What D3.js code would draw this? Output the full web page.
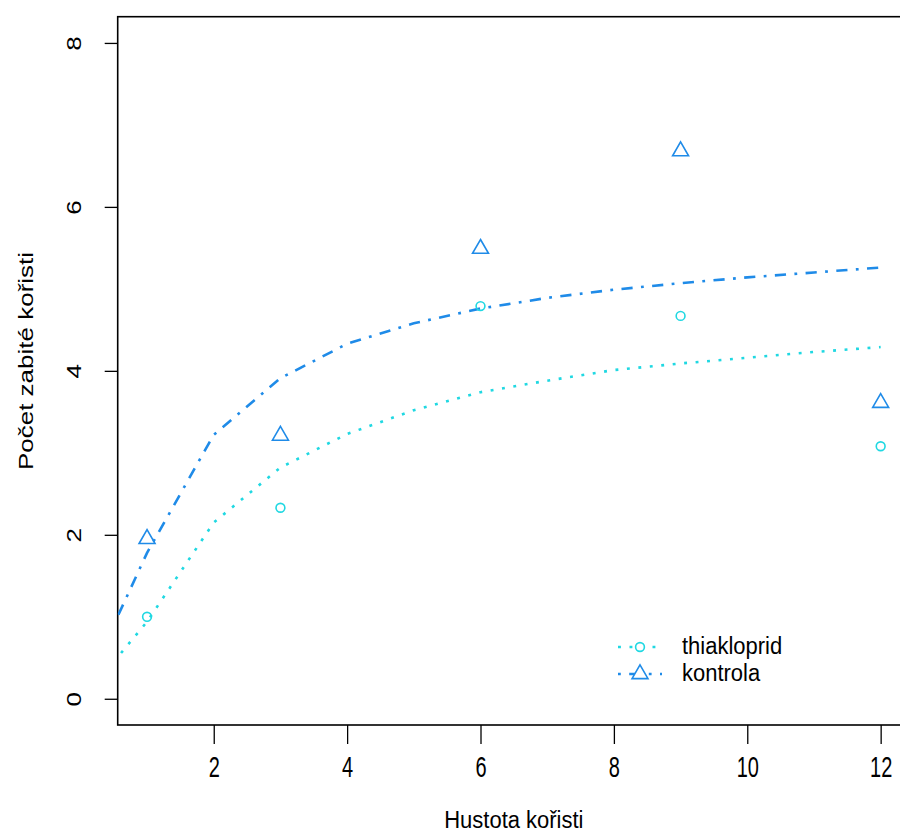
<!DOCTYPE html>
<html>
<head>
<meta charset="utf-8">
<script src="https://cdn.jsdelivr.net/npm/d3@7"></script>
<style>
  body { margin: 0; background: #fff; }
  text { font-family: "Liberation Sans", Arial, sans-serif; fill: #000; }
</style>
</head>
<body>
<svg id="chart" width="900" height="832"></svg>
<script>
// observed points
const density = [1, 3, 6, 9, 12];
const killedThiakloprid = [1.0, 2.33, 4.79, 4.67, 3.08];
const killedKontrola = [1.95, 3.21, 5.49, 6.68, 3.61];

// fitted curves
const fitX = [0.5, 1, 2, 3, 4, 5, 6, 7, 8, 9, 10, 11, 12];
const fitThiakloprid = [0.45, 0.94, 2.15, 2.82, 3.23, 3.52, 3.74, 3.88, 4.01, 4.09, 4.16, 4.23, 4.29];
const fitKontrola = [0.90, 1.78, 3.22, 3.91, 4.33, 4.58, 4.76, 4.89, 4.99, 5.07, 5.14, 5.20, 5.26];

const xTicks = [2, 4, 6, 8, 10, 12];
const yTicks = [0, 2, 4, 6, 8];
const seriesNames = ["thiakloprid", "kontrola"];

const cyan = "#20d8e2";
const blue = "#1f8be8";
const dotted = "2.9 8.6";
const dotDash = "2.8 8.4 11.2 8.4";

const svg = d3.select("#chart");

const x = d3.scaleLinear().domain([0.56, 12.44]).range([117.7, 910]);
const y = d3.scaleLinear().domain([-0.32, 8.32]).range([725, 16.7]);

//clip for the fitted lines
svg.append("clipPath").attr("id", "plotClip")
  .append("rect")
  .attr("x", x.range()[0]).attr("y", y.range()[1])
  .attr("width", x.range()[1] - x.range()[0])
  .attr("height", y.range()[0] - y.range()[1]);

//x axis
svg.append("g")
  .attr("transform", `translate(0,${y.range()[0]})`)
  .call(d3.axisBottom(x).tickValues(xTicks).tickSize(19).tickFormat(d3.format("d")))
  .attr("font-size", null).attr("font-family", null)
  .call(g => g.select(".domain").remove())
  .call(g => g.selectAll("line").attr("stroke", "#000").attr("stroke-width", 1.3))
  .call(g => g.selectAll("text")
    .attr("y", null).attr("dy", null)
    .attr("font-size", 20)
    .attr("transform", "translate(0,52) scale(1,1.45)"));

//y axis, labels turned like in R
svg.append("g")
  .attr("transform", `translate(${x.range()[0]},0)`)
  .call(d3.axisLeft(y).tickValues(yTicks).tickSize(13).tickFormat(d3.format("d")))
  .attr("font-size", null).attr("font-family", null)
  .call(g => g.select(".domain").remove())
  .call(g => g.selectAll("line").attr("stroke", "#000").attr("stroke-width", 1.3))
  .call(g => g.selectAll("text")
    .attr("x", null).attr("dy", null)
    .attr("text-anchor", "middle")
    .attr("font-size", 20)
    .attr("transform", "translate(-37,0) scale(1,1.3) rotate(-90)"));

//box
svg.append("rect")
  .attr("x", x.range()[0]).attr("y", y.range()[1])
  .attr("width", x.range()[1] - x.range()[0])
  .attr("height", y.range()[0] - y.range()[1])
  .attr("fill", "none").attr("stroke", "#000").attr("stroke-width", 1.6);

//axis titles
svg.append("text")
  .attr("text-anchor", "middle")
  .attr("font-size", 22)
  .attr("transform", `translate(${(x.range()[0] + x.range()[1]) / 2},828) scale(1,1.12)`)
  .text("Hustota kořisti");

svg.append("text")
  .attr("text-anchor", "middle")
  .attr("font-size", 20)
  .attr("transform", "translate(33,361) scale(1,1.3) rotate(-90)")
  .text("Počet zabité kořisti");

//fitted curves
const line = d3.line().x(d => x(d[0])).y(d => y(d[1]));

const plot = svg.append("g").attr("clip-path", "url(#plotClip)");

plot.append("path")
  .datum(d3.zip(fitX, fitThiakloprid))
  .attr("d", line)
  .attr("fill", "none").attr("stroke", cyan)
  .attr("stroke-width", 2.6).attr("stroke-dasharray", dotted);

plot.append("path")
  .datum(d3.zip(fitX, fitKontrola))
  .attr("d", line)
  .attr("fill", "none").attr("stroke", blue)
  .attr("stroke-width", 2.6).attr("stroke-dasharray", dotDash);

//points
const tri = d3.symbol(d3.symbolTriangle, 110);

svg.append("g").selectAll("circle")
  .data(d3.zip(density, killedThiakloprid))
  .join("circle")
  .attr("cx", d => x(d[0])).attr("cy", d => y(d[1]))
  .attr("r", 4.4)
  .attr("fill", "none").attr("stroke", cyan).attr("stroke-width", 1.6);

svg.append("g").selectAll("path")
  .data(d3.zip(density, killedKontrola))
  .join("path")
  .attr("d", tri)
  .attr("transform", d => `translate(${x(d[0])},${y(d[1])})`)
  .attr("fill", "none").attr("stroke", blue).attr("stroke-width", 1.6);

//legend
const legend = svg.append("g").attr("transform", "translate(618,647)");
const rowGap = 27;

seriesNames.forEach((name, i) => {
  const row = legend.append("g").attr("transform", `translate(0,${i * rowGap})`);
  row.append("line")
    .attr("x1", 0).attr("x2", 44).attr("y1", 0).attr("y2", 0)
    .attr("stroke", i == 0 ? cyan : blue)
    .attr("stroke-width", 2.6)
    .attr("stroke-dasharray", i == 0 ? dotted : dotDash);
  if (i == 0) {
    row.append("circle")
      .attr("cx", 22).attr("cy", 0).attr("r", 4.4)
      .attr("fill", "#fff").attr("stroke", cyan).attr("stroke-width", 1.6);
  } else {
    row.append("path")
      .attr("d", tri)
      .attr("transform", "translate(22,0)")
      .attr("fill", "#fff").attr("stroke", blue).attr("stroke-width", 1.6);
  }
  row.append("text")
    .attr("font-size", 22)
    .attr("transform", "translate(64,7) scale(1,1.1)")
    .text(name);
});
</script>
</body>
</html>
